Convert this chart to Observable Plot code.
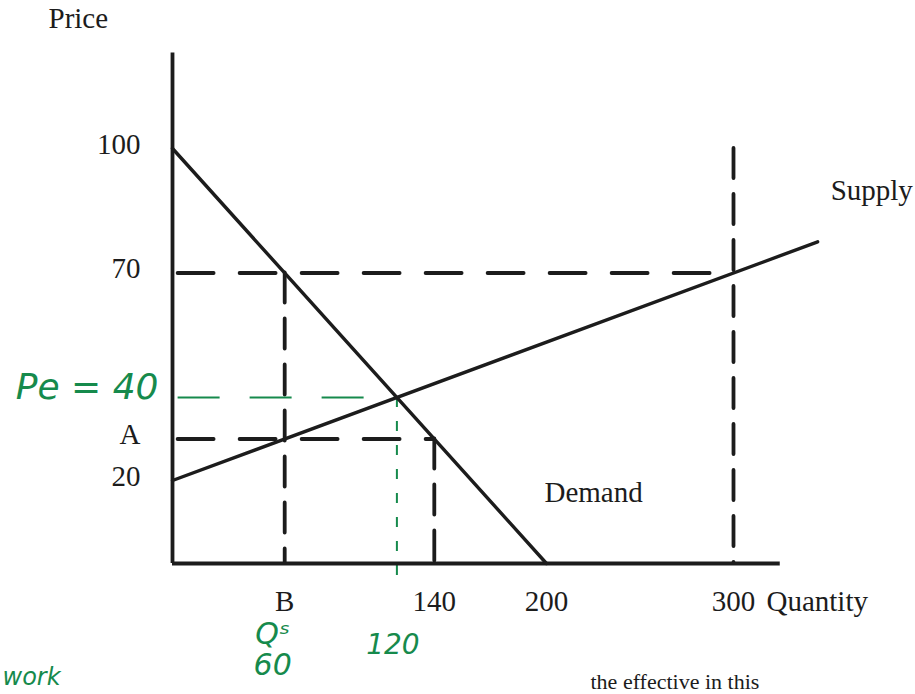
<!DOCTYPE html>
<html>
<head>
<meta charset="utf-8">
<script src="https://cdn.jsdelivr.net/npm/d3@7"></script>
<script src="https://cdn.jsdelivr.net/npm/@observablehq/plot@0.6"></script>
<style>
  html, body { margin: 0; padding: 0; background: #fff; overflow: hidden; }
  #chart svg { display: block; }
</style>
</head>
<body>
<div id="chart"></div>
<script>
// Demand: P = 100 - Q/2   Supply: P = 20 + Q/6
const demandQ = [0, 200];
const demandP = [100, 0];
const supplyQ = [0, 345];
const supplyP = [20, 77.5];

// Price-axis labels (A marks the price of 30)
const priceTicks = [100, 70, 30, 20];
const priceTickLabels = ["100", "70", "A", "20"];

// Quantity-axis labels (B marks the quantity of 60)
const quantityTicks = [60, 140, 200, 300];
const quantityTickLabels = ["B", "140", "200", "300"];

// Dashed guides: ceiling price 70 and price A = 30
const guidePrice = [70, 30];
const guidePriceTo = [300, 140];
const guideQuantity = [300, 60, 140];
const guideQuantityFrom = [100, 70, 30];

// Equilibrium
const eqQ = 120;
const eqP = 40;

const ink = "#1c1c1c";
const pen = "#168a4c";
const serif = "Liberation Serif, Times New Roman, serif";
const hand = "DejaVu Sans, sans-serif";

const demand = demandQ.map((q, i) => ({q, p: demandP[i]}));
const supply = supplyQ.map((q, i) => ({q, p: supplyP[i]}));
const hGuides = guidePrice.map((p, i) => ({p, q1: 3, q2: guidePriceTo[i]}));
const vGuides = guideQuantity.map((q, i) => ({q, p1: guideQuantityFrom[i], p2: 0}));
const yLabels = priceTicks.map((p, i) => ({p, label: priceTickLabels[i]}));
const xLabels = quantityTicks.map((q, i) => ({q, label: quantityTickLabels[i]}));

const chart = Plot.plot({
  width: 915,
  height: 694,
  margin: 0,
  style: {background: "#fff"},
  x: {domain: [0, 400], range: [172, 172 + 400 * 1.87], axis: null},
  y: {domain: [0, 135], range: [563, 563 - 135 * 4.15], axis: null},
  marks: [
    // dashed guides
    Plot.ruleY(hGuides, {y: "p", x1: "q1", x2: "q2", stroke: ink, strokeWidth: 3.8, strokeDasharray: "36,26", strokeLinecap: "round"}),
    Plot.ruleX(vGuides, {x: "q", y1: "p1", y2: "p2", stroke: ink, strokeWidth: 3.8, strokeDasharray: "30,16", strokeLinecap: "round"}),
    // equilibrium guides
    Plot.ruleY([eqP], {x1: 3, x2: eqQ, stroke: pen, strokeWidth: 2.2, strokeDasharray: "42,30"}),
    Plot.ruleX([eqQ], {y1: eqP, y2: -3, stroke: pen, strokeWidth: 2, strokeDasharray: "10,14"}),
    // axes
    Plot.ruleX([0], {y1: 0, y2: 123, stroke: ink, strokeWidth: 3.8}),
    Plot.ruleY([0], {x1: 0, x2: 325, stroke: ink, strokeWidth: 3.8}),
    // curves
    Plot.line(demand, {x: "q", y: "p", stroke: ink, strokeWidth: 3.4}),
    Plot.line(supply, {x: "q", y: "p", stroke: ink, strokeWidth: 3.4, strokeLinecap: "round"}),
    // axis labels
    Plot.text(yLabels, {x: 0, y: "p", text: "label", dx: -32, dy: -4, textAnchor: "end", fontSize: 29, fontFamily: serif, fill: ink}),
    Plot.text(xLabels, {x: "q", y: 0, text: "label", dy: 38, fontSize: 29, fontFamily: serif, fill: ink}),
    Plot.text(["Quantity"], {x: 300, y: 0, dx: 33, dy: 38, textAnchor: "start", fontSize: 29, fontFamily: serif, fill: ink}),
    Plot.text(["Price"], {x: 0, y: 135, dx: -124, dy: 15, textAnchor: "start", fontSize: 29, fontFamily: serif, fill: ink}),
    Plot.text(["Supply"], {x: supplyQ[1], y: supplyP[1], dx: 13, dy: -51, textAnchor: "start", fontSize: 29, fontFamily: serif, fill: ink}),
    Plot.text(["Demand"], {x: demandQ[1], y: demandP[1], dx: -2, dy: -71, textAnchor: "start", fontSize: 29, fontFamily: serif, fill: ink}),
    // handwritten notes
    Plot.text(["Pe = 40"], {x: 0, y: eqP, dx: -14, dy: -10, textAnchor: "end", fontSize: 36, fontStyle: "italic", fontFamily: hand, fill: pen}),
    Plot.text(["Qˢ\n60"], {x: 60, y: 0, dx: -12, dy: 86, lineHeight: 1.05, fontSize: 30, fontStyle: "italic", fontFamily: hand, fill: pen}),
    Plot.text([String(eqQ)], {x: eqQ, y: 0, dx: -4, dy: 82, fontSize: 28, fontStyle: "italic", fontFamily: hand, fill: pen}),
    Plot.text(["work"], {x: 0, y: 0, dx: -170, dy: 114, textAnchor: "start", fontSize: 24, fontStyle: "italic", fontFamily: hand, fill: pen}),
    Plot.text(["the effective in this"], {x: 0, y: 0, dx: 418, dy: 118, textAnchor: "start", fontSize: 22, fontFamily: serif, fill: ink})
  ]
});

document.getElementById("chart").append(chart);
</script>
</body>
</html>
